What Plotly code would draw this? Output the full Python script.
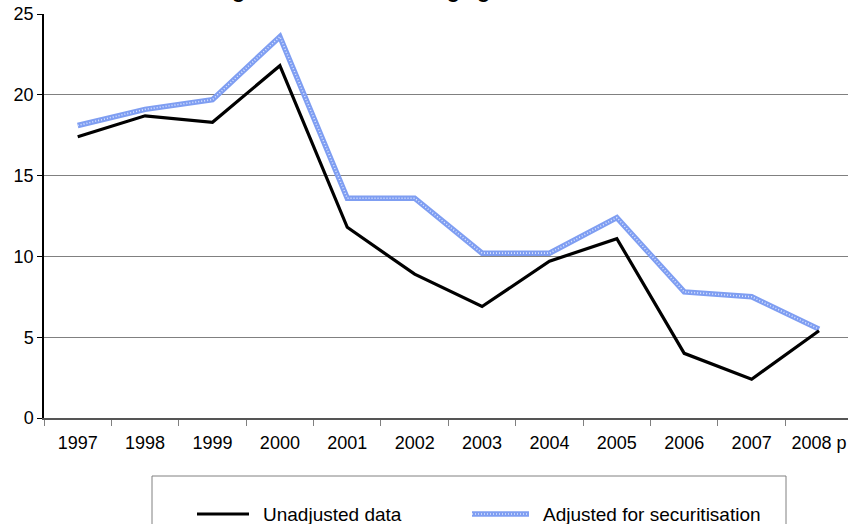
import plotly.graph_objects as go

# Annual growth, per cent
years = ["1997", "1998", "1999", "2000", "2001", "2002", "2003",
         "2004", "2005", "2006", "2007", "2008 p"]
unadjusted = [17.4, 18.7, 18.3, 21.8, 11.8, 8.9, 6.9, 9.7, 11.1, 4.0, 2.4, 5.4]
adjusted = [18.1, 19.1, 19.7, 23.6, 13.6, 13.6, 10.2, 10.2, 12.4, 7.8, 7.5, 5.5]
y_ticks = [0, 5, 10, 15, 20, 25]

title_text = "Housing loans: annual average growth"
legend_names = ["Unadjusted data", "Adjusted for securitisation"]

W, H = 848, 524
ML, MR, MT, MB = 44, 0, 14, 106
PW, PH = W - ML - MR, H - MT - MB
FONT = "Liberation Sans, Arial, sans-serif"

BLUE = "#7f9ef2"
BLUE_DOTS = "#dce6ff"


def px_x(px):
    return (px - ML) / PW


def px_y(py):
    return (H - MB - py) / PH


fig = go.Figure()

# securitisation-adjusted series: blue band with a light stipple on top
fig.add_trace(go.Scatter(x=years, y=adjusted, mode="lines",
                         line=dict(color=BLUE, width=5.5),
                         name=legend_names[1], showlegend=False,
                         hoverinfo="skip"))
fig.add_trace(go.Scatter(x=years, y=adjusted, mode="lines",
                         line=dict(color=BLUE_DOTS, width=1.6, dash="1px,2px"),
                         showlegend=False, hoverinfo="skip"))
fig.add_trace(go.Scatter(x=years, y=unadjusted, mode="lines",
                         line=dict(color="#000000", width=3.2),
                         name=legend_names[0], showlegend=False))

shapes = []
annotations = []

# legend box (runs past the bottom edge)
shapes.append(dict(type="rect", xref="paper", yref="paper",
                   x0=px_x(152), x1=px_x(786), y0=px_y(540), y1=px_y(476),
                   line=dict(color="#808080", width=1), fillcolor="white",
                   layer="above"))
shapes.append(dict(type="line", xref="paper", yref="paper",
                   x0=px_x(197), x1=px_x(249), y0=px_y(514), y1=px_y(514),
                   line=dict(color="#000000", width=3.2)))
shapes.append(dict(type="line", xref="paper", yref="paper",
                   x0=px_x(472), x1=px_x(529), y0=px_y(514), y1=px_y(514),
                   line=dict(color=BLUE, width=5.5)))
shapes.append(dict(type="line", xref="paper", yref="paper",
                   x0=px_x(472), x1=px_x(529), y0=px_y(514), y1=px_y(514),
                   line=dict(color=BLUE_DOTS, width=1.6, dash="1px,2px")))
annotations.append(dict(text=legend_names[0], xref="paper", yref="paper",
                        x=px_x(261), y=px_y(514), xanchor="left",
                        yanchor="middle", showarrow=False,
                        font=dict(family=FONT, size=19, color="#000")))
annotations.append(dict(text=legend_names[1], xref="paper", yref="paper",
                        x=px_x(541), y=px_y(514), xanchor="left",
                        yanchor="middle", showarrow=False,
                        font=dict(family=FONT, size=19, color="#000")))

# chart title, sitting above the top edge
annotations.append(dict(text="<b>" + title_text + "</b>", xref="paper",
                        yref="paper", x=px_x(159), y=px_y(4),
                        xanchor="left", yanchor="bottom", showarrow=False,
                        font=dict(family=FONT, size=21, color="#000")))

fig.update_layout(
    width=W, height=H,
    margin=dict(l=ML, r=MR, t=MT, b=MB),
    paper_bgcolor="white", plot_bgcolor="white",
    font=dict(family=FONT, size=18, color="#000"),
    shapes=shapes, annotations=annotations,
    showlegend=False,
)

fig.update_xaxes(
    type="category", categoryorder="array", categoryarray=years,
    range=[-0.5, 11.43], tickson="boundaries",
    ticks="outside", ticklen=6, tickcolor="#808080", tickwidth=1,
    ticklabelstandoff=7,
    showline=True, linecolor="#555555", linewidth=2,
    showgrid=False, zeroline=False, fixedrange=True,
    tickfont=dict(family=FONT, size=18, color="#000"),
)
fig.update_yaxes(
    range=[0, 25], tickvals=y_ticks, ticktext=[str(v) for v in y_ticks],
    ticks="outside", ticklen=5, tickcolor="#000000", tickwidth=1,
    showline=True, linecolor="#000000", linewidth=1.5,
    showgrid=True, gridcolor="#808080", gridwidth=1.3,
    zeroline=False, fixedrange=True,
    tickfont=dict(family=FONT, size=18, color="#000"),
)

fig.write_html("out.html")
